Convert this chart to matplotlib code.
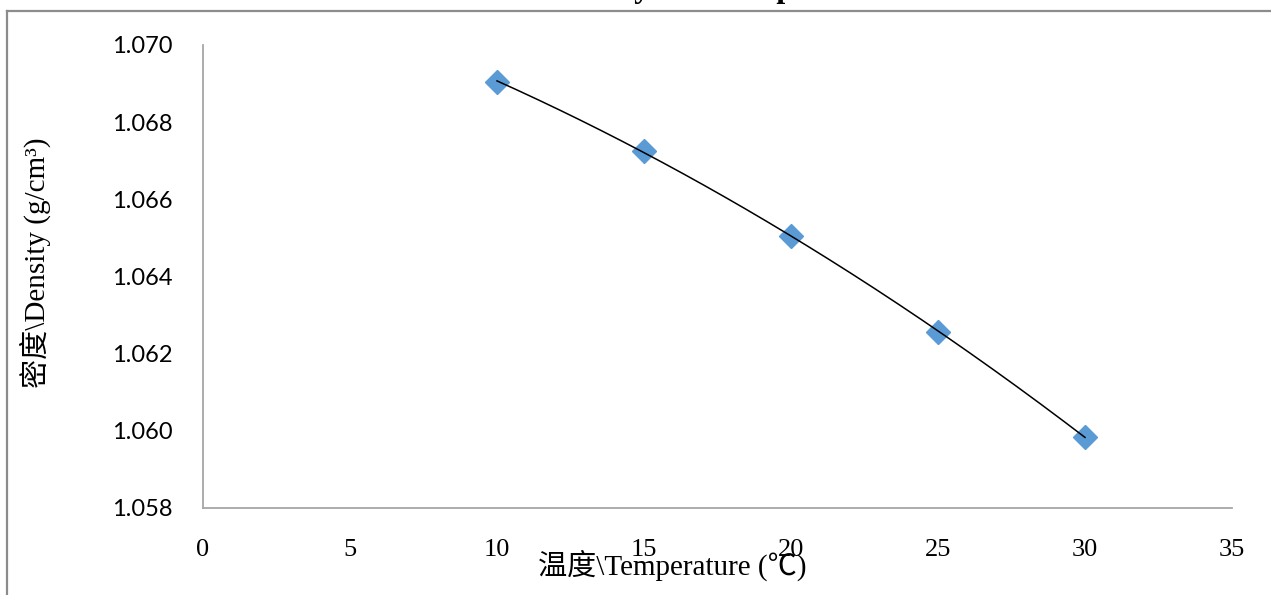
import numpy as np
import matplotlib
matplotlib.use("Agg")
import matplotlib.pyplot as plt
from matplotlib.lines import Line2D

# Data
temperature = [10, 15, 20, 25, 30]
density = [1.06905, 1.06725, 1.06505, 1.06255, 1.05985]
x_ticks = [0, 5, 10, 15, 20, 25, 30, 35]
y_ticks = [1.058, 1.060, 1.062, 1.064, 1.066, 1.068, 1.070]
x_label = "温度\\Temperature (℃)"
y_label = "密度\\Density (g/cm³)"
title = "图1 温度与密度关系曲线\\Curve of Density and Temperature"

W, H = 1271, 595
fig = plt.figure(figsize=(W / 100, H / 100), dpi=100)
fig.patch.set_facecolor("white")

serif_cjk = ["Liberation Serif", "Noto Sans CJK SC"]

# outer chart frame (partially cut off)
fx0, fy0 = 7 / W, 1 - 10.5 / H
fig.add_artist(Line2D([fx0, 1.01], [fy0, fy0], transform=fig.transFigure,
                      color="#8c8c8c", lw=1.6))
fig.add_artist(Line2D([fx0, fx0], [fy0, -0.01], transform=fig.transFigure,
                      color="#8c8c8c", lw=1.6))

# cut-off title (only the lowest few pixels are visible)
fig.text(0.052, 1 + 2.5 / H, title, ha="left", va="baseline",
         fontsize=23, fontweight="bold", family=serif_cjk, color="black")

ax = fig.add_axes([203 / W, (H - 508) / H, (1232 - 203) / W, (508 - 45) / H])
ax.set_xlim(0, 35)
ax.set_ylim(1.058, 1.070)
ax.set_xticks(x_ticks)
ax.set_yticks(y_ticks)
ax.set_xticklabels([str(v) for v in x_ticks], family="Liberation Serif", fontsize=19)
ax.set_yticklabels([f"{v:.3f}" for v in y_ticks], family="Lato", fontsize=17)
ax.tick_params(axis="x", length=0, pad=22)
ax.tick_params(axis="y", length=0, pad=22)
for s in ["top", "right"]:
    ax.spines[s].set_visible(False)
for s in ["left", "bottom"]:
    ax.spines[s].set_color("#a6a6a6")
    ax.spines[s].set_linewidth(1.3)

# polynomial trendline (order 2)
coef = np.polyfit(temperature, density, 2)
xs = np.linspace(min(temperature), max(temperature), 200)
ax.plot(temperature, density, linestyle="none", marker="D", markersize=12,
        color="#5b9bd5", zorder=2)
ax.plot(xs, np.polyval(coef, xs), color="black", lw=1.1, zorder=3)

fig.text(672 / W, 1 - 565 / H, x_label, ha="center", va="center",
         fontsize=21, family=serif_cjk)
fig.text(35 / W, 1 - 263 / H, y_label, ha="center", va="center",
         rotation=90, fontsize=21, family=serif_cjk)

fig.savefig("out.png", dpi=100, facecolor="white")
